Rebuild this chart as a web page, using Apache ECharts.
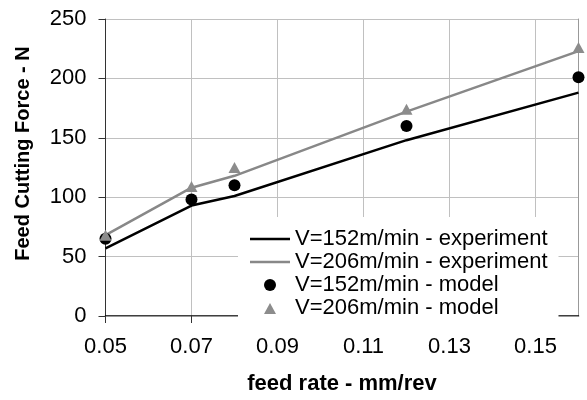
<!DOCTYPE html>
<html>
<head>
<meta charset="utf-8">
<script src="https://cdn.jsdelivr.net/npm/echarts@6/dist/echarts.min.js"></script>
<style>
  html, body { margin: 0; padding: 0; background: #fff; }
  #feedChart { width: 587px; height: 400px; }
</style>
</head>
<body>
<div id="feedChart"></div>
<script>
// feed rate (mm/rev) and cutting forces (N)
const feedRate = [0.05, 0.07, 0.08, 0.12, 0.16]
const exp152 = [57, 93, 101, 148, 188]
const exp206 = [68, 108, 118, 172, 223]
const model152 = [65, 98, 110, 160, 201]
const model206 = [68, 109, 125, 174, 226]
const xTicks = [0.05, 0.07, 0.09, 0.11, 0.13, 0.15]

const seriesNames = [
  'V=152m/min - experiment',
  'V=206m/min - experiment',
  'V=152m/min - model',
  'V=206m/min - model'
]

const font = 'Liberation Sans, Arial, sans-serif'
const gridColor = '#c0c0c0'

function pairs(ys) {
  return feedRate.map((x, i) => [x, ys[i]])
}

// legend icons: 40x12 box, the extra moveTo points keep the box size
const lineIcon = 'path://M0,0M40,12M0,4.75H40V7.25H0Z'
const triIcon = 'path://M0,0M40,12M14,12L20,1L26,12Z'

const chart = echarts.init(document.getElementById('feedChart'))
chart.setOption({
  animation: false,
  backgroundColor: '#fff',
  grid: {
    left: 105.5,
    right: 8.5,
    top: 19,
    bottom: 78
  },
  legend: {
    orient: 'vertical',
    left: 238,
    top: 217,
    padding: [11, 11, 5, 12],
    backgroundColor: '#fff',
    itemWidth: 40,
    itemHeight: 12,
    itemGap: 1,
    z: 10,
    textStyle: {
      color: '#000',
      fontFamily: font,
      fontSize: 22,
      lineHeight: 20
    },
    data: [
      { name: seriesNames[0], icon: lineIcon },
      { name: seriesNames[1], icon: lineIcon },
      { name: seriesNames[2], icon: 'circle' },
      { name: seriesNames[3], icon: triIcon }
    ]
  },
  xAxis: [
    {
      type: 'value',
      min: xTicks[0],
      max: 0.16,
      interval: 0.02,
      name: 'feed rate - mm/rev',
      nameLocation: 'middle',
      nameGap: 57,
      nameTextStyle: {
        color: '#000',
        fontFamily: font,
        fontSize: 22,
        fontWeight: 'bold'
      },
      axisLine: { show: true, lineStyle: { color: '#000', width: 1.5 } },
      axisTick: {
        show: true,
        inside: false,
        length: 7,
        lineStyle: { color: '#333', width: 1 }
      },
      axisLabel: {
        margin: 20,
        color: '#000',
        fontFamily: font,
        fontSize: 22,
        showMaxLabel: false,
        formatter(v) {
          return v.toFixed(2)
        }
      },
      splitLine: { show: true, lineStyle: { color: gridColor, width: 1 } }
    },
    {
      // top border of the plot
      type: 'value',
      position: 'top',
      min: 0.05,
      max: 0.16,
      axisLine: { show: true, lineStyle: { color: '#999', width: 1 } },
      axisTick: { show: false },
      axisLabel: { show: false },
      splitLine: { show: false }
    }
  ],
  yAxis: [
    {
      type: 'value',
      min: 0,
      max: 250,
      interval: 50,
      name: 'Feed Cutting Force - N',
      nameLocation: 'middle',
      nameGap: 72,
      nameTextStyle: {
        color: '#000',
        fontFamily: font,
        fontSize: 20,
        fontWeight: 'bold',
        padding: [0, 0, 0, 28]
      },
      axisLine: { show: true, lineStyle: { color: '#333', width: 1 } },
      axisTick: { show: true, inside: false, length: 7, lineStyle: { color: '#333', width: 1 } },
      axisLabel: {
        margin: 19,
        color: '#000',
        fontFamily: font,
        fontSize: 22
      },
      splitLine: { show: true, lineStyle: { color: gridColor, width: 1 } }
    },
    {
      // right border of the plot
      type: 'value',
      position: 'right',
      min: 0,
      max: 250,
      interval: 50,
      axisLine: { show: true, lineStyle: { color: '#999', width: 1 } },
      axisTick: { show: false },
      axisLabel: { show: false },
      splitLine: { show: false }
    }
  ],
  series: [
    {
      name: seriesNames[0],
      type: 'line',
      symbol: 'none',
      lineStyle: { color: '#000', width: 2.5 },
      itemStyle: { color: '#000' },
      data: pairs(exp152),
      z: 3
    },
    {
      name: seriesNames[1],
      type: 'line',
      symbol: 'none',
      lineStyle: { color: '#888', width: 2.5 },
      itemStyle: { color: '#888' },
      data: pairs(exp206),
      z: 3
    },
    {
      name: seriesNames[2],
      type: 'scatter',
      symbol: 'circle',
      symbolSize: 12,
      clip: false,
      itemStyle: { color: '#000', opacity: 1 },
      data: pairs(model152),
      z: 4
    },
    {
      name: seriesNames[3],
      type: 'scatter',
      symbol: 'triangle',
      symbolSize: [12, 11],
      clip: false,
      itemStyle: { color: '#8c8c8c', opacity: 1 },
      data: pairs(model206),
      z: 4
    }
  ]
})
</script>
</body>
</html>
